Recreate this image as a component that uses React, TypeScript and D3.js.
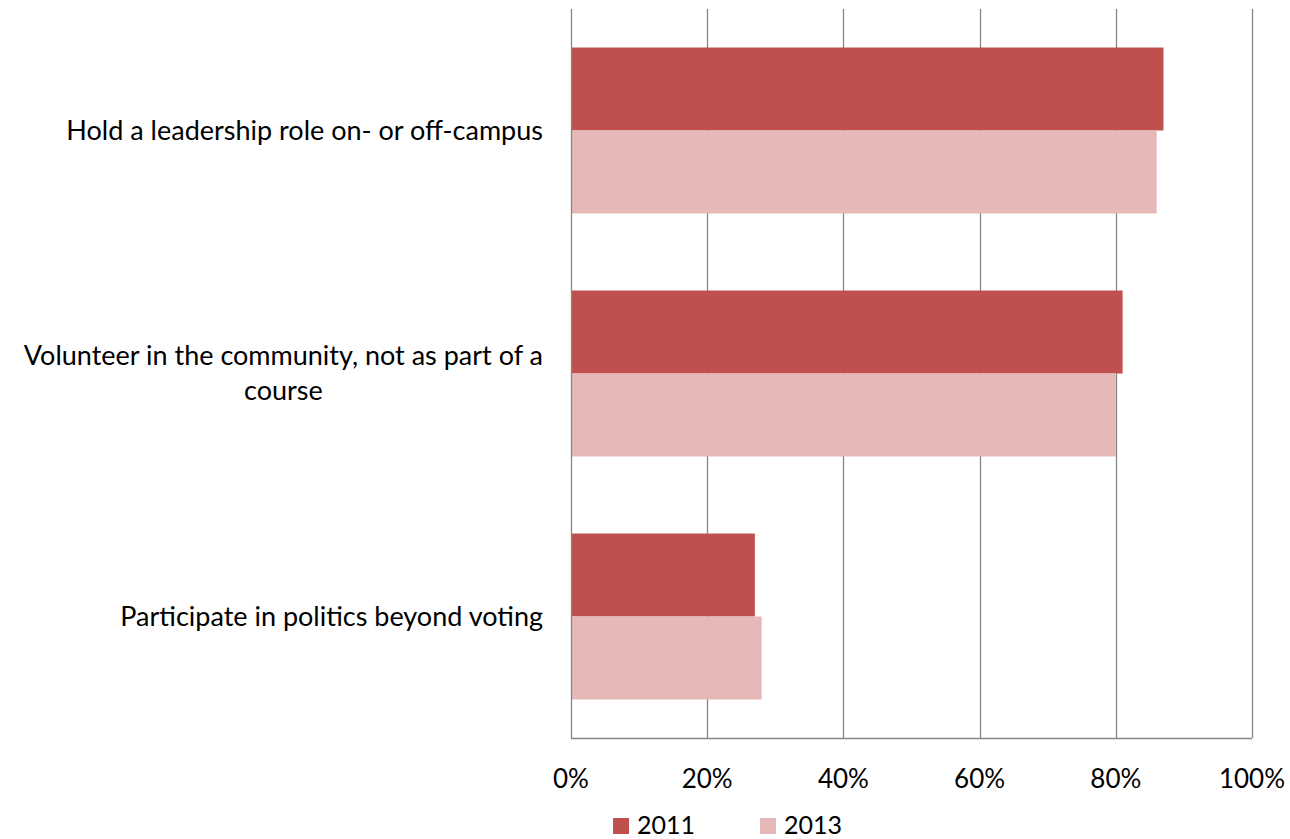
import { useEffect, useRef } from "react";
import * as d3 from "d3";

const categories = [
  "Hold a leadership role on- or off-campus",
  "Volunteer in the community, not as part of a course",
  "Participate in politics beyond voting",
];
const seriesNames = ["2011", "2013"];
const values2011 = [0.87, 0.81, 0.27];
const values2013 = [0.86, 0.8, 0.28];
const tickValues = [0, 0.2, 0.4, 0.6, 0.8, 1];

const colors = ["#C0504D", "#E6B9B8"];
const FONT = "Lato, 'Open Sans', sans-serif";

export default function App() {
  const ref = useRef<SVGSVGElement | null>(null);

  useEffect(() => {
    const width = 1290,
      height = 839;
    const margin = { top: 9, right: 38, bottom: 101, left: 571 };
    const svg = d3.select(ref.current);
    svg.selectAll("*").remove();

    const x = d3
      .scaleLinear()
      .domain([0, 1])
      .range([margin.left, width - margin.right]);
    const y = d3
      .scaleBand<string>()
      .domain(categories)
      .range([margin.top, height - margin.bottom])
      .paddingInner(0.317)
      .paddingOuter(0.1585);
    const sub = d3
      .scaleBand<string>()
      .domain(seriesNames)
      .range([0, y.bandwidth()]);

    // gridlines
    svg
      .append("g")
      .selectAll("line")
      .data(tickValues.slice(1))
      .enter()
      .append("line")
      .attr("x1", d => Math.round(x(d)) + 0.5)
      .attr("x2", d => Math.round(x(d)) + 0.5)
      .attr("y1", margin.top)
      .attr("y2", height - margin.bottom)
      .attr("stroke", "#868686")
      .attr("stroke-width", 1.3);

    // bars
    const series = [values2011, values2013];
    series.forEach((vals, si) => {
      svg
        .append("g")
        .selectAll("rect")
        .data(vals)
        .enter()
        .append("rect")
        .attr("x", x(0))
        .attr("y", (_, i) => y(categories[i])! + sub(seriesNames[si])!)
        .attr("width", d => x(d) - x(0))
        .attr("height", sub.bandwidth())
        .attr("fill", colors[si]);
    });

    // axes lines
    svg
      .append("line")
      .attr("x1", Math.round(x(0)) + 0.5)
      .attr("x2", Math.round(x(0)) + 0.5)
      .attr("y1", margin.top)
      .attr("y2", height - margin.bottom)
      .attr("stroke", "#868686")
      .attr("stroke-width", 1.3);
    svg
      .append("line")
      .attr("x1", x(0))
      .attr("x2", x(1))
      .attr("y1", height - margin.bottom + 0.5)
      .attr("y2", height - margin.bottom + 0.5)
      .attr("stroke", "#868686")
      .attr("stroke-width", 1.3);

    // tick labels
    svg
      .append("g")
      .selectAll("text")
      .data(tickValues)
      .enter()
      .append("text")
      .attr("x", d => x(d))
      .attr("y", height - margin.bottom + 50)
      .attr("text-anchor", "middle")
      .attr("font-family", FONT)
      .attr("font-size", 26)
      .attr("fill", "#000")
      .text(d3.format(".0%"));

    // category labels with wrapping
    const maxW = 555;
    const lineH = 35;
    categories.forEach(cat => {
      const t = svg
        .append("text")
        .attr("text-anchor", "middle")
        .attr("font-family", FONT)
        .attr("font-size", 27)
        .attr("fill", "#000");
      const words = cat.split(" ");
      const lines: string[] = [];
      let cur = "";
      const probe = t.append("tspan");
      words.forEach(w => {
        const test = cur ? cur + " " + w : w;
        probe.text(test);
        if ((probe.node() as SVGTSpanElement).getComputedTextLength() > maxW && cur) {
          lines.push(cur);
          cur = w;
        } else cur = test;
      });
      lines.push(cur);
      probe.remove();
      // widest line sets the block, lines centred inside it
      const widths = lines.map(l => {
        const p = t.append("tspan").text(l);
        const wv = (p.node() as SVGTSpanElement).getComputedTextLength();
        p.remove();
        return wv;
      });
      const blockW = Math.max(...widths);
      const cx = 543 - blockW / 2;
      const cy = y(cat)! + y.bandwidth() / 2;
      const startY = cy - ((lines.length - 1) * lineH) / 2 + 9;
      lines.forEach((l, i) => {
        t.append("tspan")
          .attr("x", cx)
          .attr("y", startY + i * lineH)
          .text(l);
      });
    });

    // legend
    const legend = svg.append("g").attr("transform", `translate(613, 818)`);
    seriesNames.forEach((name, i) => {
      const g = legend.append("g").attr("transform", `translate(${i * 147}, 0)`);
      g.append("rect").attr("width", 16).attr("height", 16).attr("fill", colors[i]);
      g.append("text")
        .attr("x", 24)
        .attr("y", 16)
        .attr("font-family", FONT)
        .attr("font-size", 25)
        .attr("fill", "#000")
        .text(name);
    });
  }, []);

  return (
    <svg
      ref={ref}
      width={1290}
      height={839}
      style={{ position: "absolute", left: 0, top: 0, background: "#fff" }}
    />
  );
}
